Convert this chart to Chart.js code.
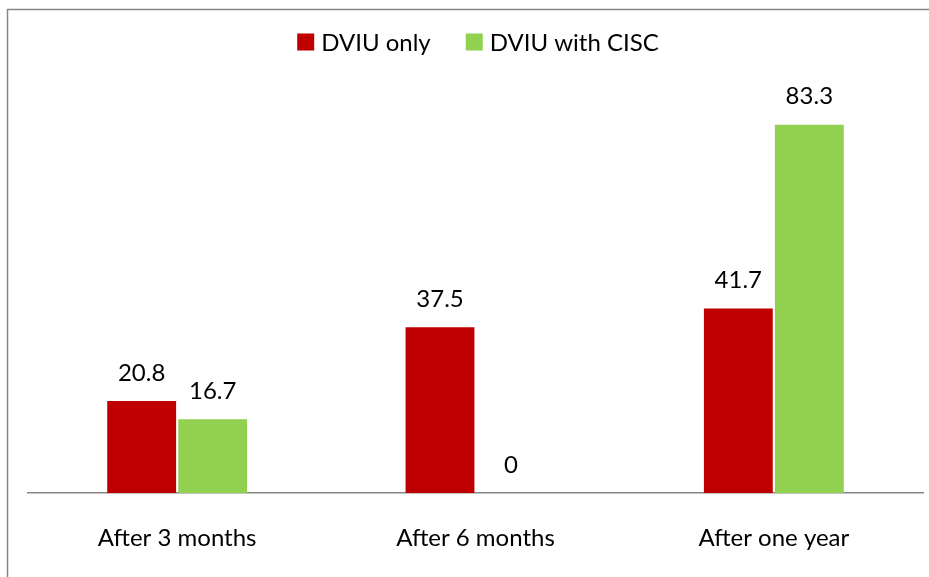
<!DOCTYPE html>
<html>
<head>
<meta charset="utf-8">
<script src="https://cdn.jsdelivr.net/npm/chart.js@4/dist/chart.umd.min.js"></script>
<style>
  html, body { margin: 0; padding: 0; background: #fff; }
  #wrap { width: 929px; height: 577px; }
</style>
</head>
<body>
<div id="wrap"><canvas id="barChart" width="929" height="577"></canvas></div>
<script>
// chart data
const categories = ["After 3 months", "After 6 months", "After one year"];
const dviuOnly = [20.8, 37.5, 41.7];
const dviuWithCisc = [16.7, 0, 83.3];
const seriesNames = ["DVIU only", "DVIU with CISC"];
const seriesColors = ["#C00000", "#92D050"];

const FONT = "Lato, 'Open Sans', sans-serif";

// gray frame around the picture
const framePlugin = {
  id: "frame",
  beforeDraw(chart) {
    const ctx = chart.ctx;
    ctx.save();
    ctx.strokeStyle = "#868686";
    ctx.lineWidth = 1.5;
    ctx.strokeRect(7.5, 9.5, 1000, 1000);
    ctx.restore();
  },
};

// legend drawn at the top centre
const legendPlugin = {
  id: "topLegend",
  afterDraw(chart) {
    const ctx = chart.ctx;
    ctx.save();
    ctx.font = "24px " + FONT;
    ctx.textBaseline = "middle";
    const box = 17, gapText = 7, gapItem = 35, y = 42, centre = 478;
    const widths = chart.data.datasets.map((d) => box + gapText + ctx.measureText(d.label).width);
    const total = widths.reduce((a, b) => a + b, 0) + gapItem * (widths.length - 1);
    let x = centre - total / 2;
    chart.data.datasets.forEach((d, i) => {
      ctx.fillStyle = d.backgroundColor;
      ctx.fillRect(x, y - box / 2, box, box);
      ctx.fillStyle = "#000";
      ctx.fillText(d.label, x + box + gapText, y + 1);
      x += widths[i] + gapItem;
    });
    ctx.restore();
  },
};

// value labels above the bars
const valueLabels = {
  id: "valueLabels",
  afterDatasetsDraw(chart) {
    const ctx = chart.ctx;
    ctx.save();
    ctx.font = "24px " + FONT;
    ctx.fillStyle = "#000";
    ctx.textAlign = "center";
    ctx.textBaseline = "middle";
    chart.data.datasets.forEach((d, i) => {
      chart.getDatasetMeta(i).data.forEach((bar, j) => {
        ctx.fillText(String(d.data[j]), bar.x, bar.y - 28);
      });
    });
    ctx.restore();
  },
};

const barCtx = document.getElementById("barChart").getContext("2d");
const barChart = new Chart(barCtx, {
  type: "bar",
  data: {
    labels: categories,
    datasets: [
      {
        label: seriesNames[0],
        data: dviuOnly,
        backgroundColor: seriesColors[0],
      },
      {
        label: seriesNames[1],
        data: dviuWithCisc,
        backgroundColor: seriesColors[1],
      },
    ],
  },
  options: {
    responsive: false,
    animation: false,
    categoryPercentage: 0.476,
    barPercentage: 0.97,
    layout: {
      padding: { left: 28, right: 6, top: 95, bottom: 0 },
    },
    plugins: {
      legend: { display: false },
      tooltip: { enabled: false },
    },
    scales: {
      x: {
        grid: { display: false, drawTicks: false },
        border: { display: true, color: "#868686", width: 1.5 },
        ticks: {
          color: "#000",
          font: { family: FONT, size: 24 },
          padding: 31,
          maxRotation: 0,
        },
        afterFit(scale) {
          scale.height = 84;
        },
      },
      y: {
        display: false,
        min: 0,
        max: 90,
      },
    },
  },
  plugins: [framePlugin, legendPlugin, valueLabels],
});
</script>
</body>
</html>
